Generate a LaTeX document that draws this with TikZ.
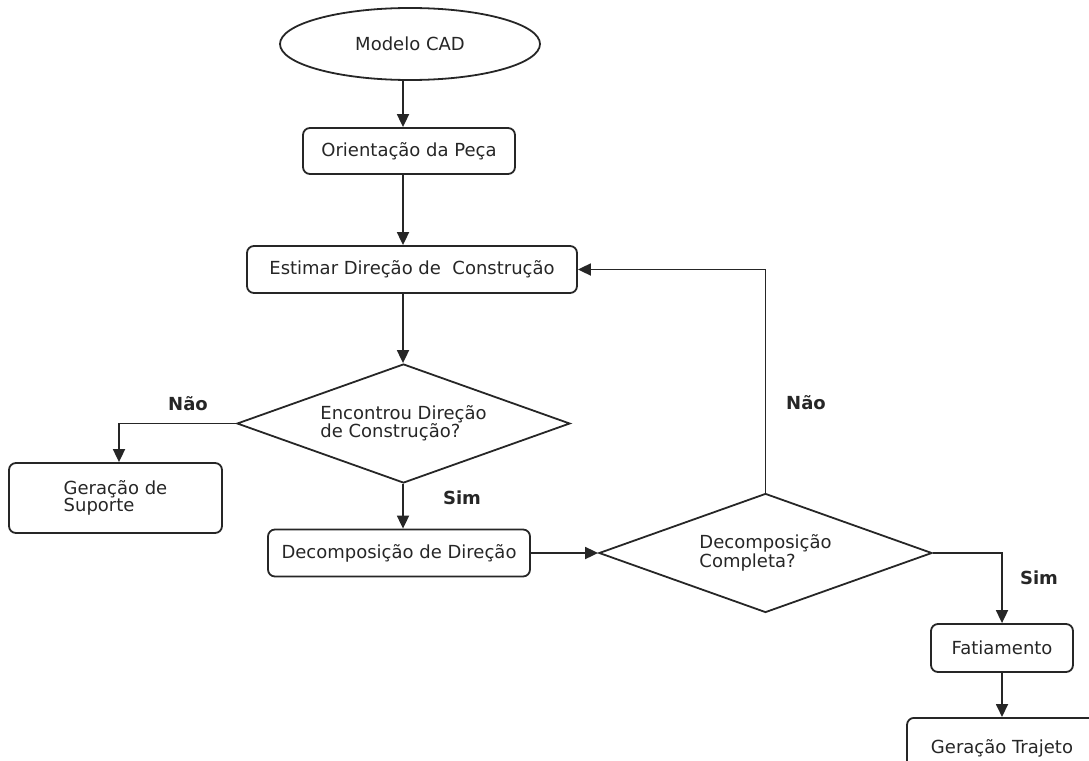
\documentclass[tikz,border=0pt]{standalone}
\usepackage{fontspec}
\setmainfont{DejaVu Sans}
\usetikzlibrary{shapes.geometric,arrows.meta}
\begin{document}
\begin{tikzpicture}[x=1pt,y=-1pt,
  every node/.style={font=\fontsize{18}{17}\selectfont, text=black!85},
  box/.style={draw=black!85, line width=1.8pt, rounded corners=7pt, inner sep=0pt},
  dia/.style={draw=black!85, line width=1.8pt, diamond, shape aspect=2.8, inner sep=0pt, minimum width=333pt, minimum height=119pt, align=left},
  lbl/.style={font=\fontsize{18}{17}\selectfont\bfseries},
  arr/.style={draw=black!85, line width=1.8pt, -{Triangle[length=13pt,width=12pt]}}]
\useasboundingbox (0,0) rectangle (1089,760);
\clip (0,0) rectangle (1089,760);
\node[draw=black!85, line width=1.8pt, ellipse, inner sep=0pt, minimum width=260pt, minimum height=72pt] (cad) at (410,44) {Modelo CAD};
\node[box, minimum width=212pt, minimum height=46pt] (ori) at (409,151) {Orientação da Peça};
\node[box, minimum width=330pt, minimum height=47pt] (est) at (412,269.5) {Estimar Direção de\ \ Construção};
\node[dia] (d1) at (403.5,423.5) {Encontrou Direção\\de Construção?};
\node[box, minimum width=213pt, minimum height=70pt, align=left] (sup) at (115.5,498) {Geração de\\Suporte};
\node[box, minimum width=262pt, minimum height=47pt] (dec) at (399,553) {Decomposição de Direção};
\node[dia] (d2) at (765.5,553) {Decomposição\\Completa?};
\node[box, minimum width=142pt, minimum height=48pt] (fat) at (1002,648) {Fatiamento};
\node[box, minimum width=190pt, minimum height=60pt, anchor=north] (traj) at (1002,717) {\raisebox{-9pt}{Geração Trajeto}};
\coordinate (cx) at (403,0);
\coordinate (sx) at (119,0);
\node[lbl] (nao1) at (188,404) {Não};
\node[lbl] (sim1) at (462,498) {Sim};
\node[lbl] (nao2) at (806,403) {Não};
\node[lbl] (sim2) at (1039,578) {Sim};
\draw[arr] (cad.south -| cx) -- (ori.north -| cx);
\draw[arr] (ori.south -| cx) -- (est.north -| cx);
\draw[arr] (est.south -| cx) -- (d1.north -| cx);
\draw[arr] (d1.west) -| (sup.north -| sx);
\draw[arr] (d1.south -| cx) -- (dec.north -| cx);
\draw[arr] (dec.east) -- (d2.west);
\draw[arr] (d2.north) |- (est.east);
\draw[arr] (d2.east) -| (fat.north);
\draw[arr] (fat.south) -- (traj.north);
\end{tikzpicture}
\end{document}
